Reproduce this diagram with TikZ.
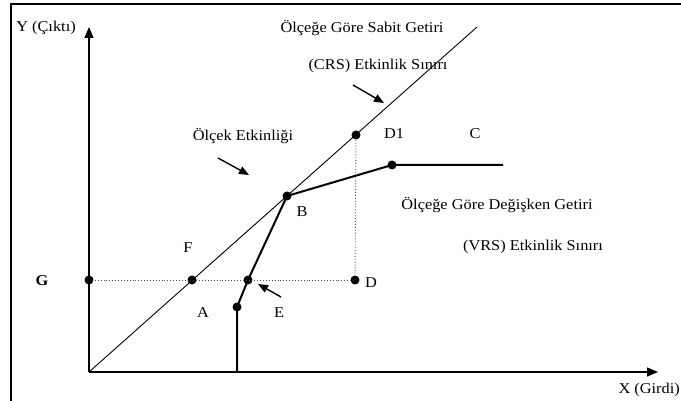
\documentclass[tikz,border=0pt]{standalone}
\usepackage{fontspec}
\setmainfont{Liberation Serif}[FakeStretch=1.09]
\usetikzlibrary{arrows.meta}
\begin{document}
\begin{tikzpicture}[x=1pt,y=1pt,
  lbl/.style={font=\fontsize{15}{17}\selectfont, inner sep=0pt, text=black},
  dotpt/.style={circle, fill=black, inner sep=0pt, minimum size=9pt},
  axis/.style={line width=1.4pt, -{Triangle[length=11pt,width=9pt]}},
  crs/.style={line width=0.9pt},
  vrs/.style={line width=2pt},
  guide/.style={dotted, line width=0.9pt, black!70},
  pointer/.style={line width=1.4pt, -{Triangle[length=10pt,width=8pt]}}]
\useasboundingbox (0,0) rectangle (681,401);
% frame
\draw[line width=1.6pt] (11,0) -- (11,397) -- (681,397);
% coordinates
\coordinate (O) at (89,29);
\coordinate (Yend) at (89,374);
\coordinate (Xend) at (658,29);
\coordinate (Cend) at (503,236);
\coordinate (CRSend) at (477,374);
\coordinate (Abase) at (237,29);
% dots
\node[dotpt] (D1) at (356,266) {};
\node[dotpt] (Cp) at (392,236) {};
\node[dotpt] (B) at (287,205) {};
\node[dotpt] (G) at (89,121) {};
\node[dotpt] (F) at (192,121) {};
\node[dotpt] (E) at (248,121) {};
\node[dotpt] (A) at (237,94) {};
\node[dotpt] (D) at (355,121) {};
% guides
\draw[guide] (G.center) -- (D.center);
\draw[guide] (D.center) -- (D1.center);
% axes
\draw[axis] (O) -- (Yend);
\draw[axis] (O) -- (Xend);
% CRS
\draw[crs] (O) -- (CRSend);
% VRS
\draw[vrs, line join=round] (Abase) -- (A.center) -- (E.center) -- (B.center) -- (Cp.center) -- (Cend);
% labels
\node[lbl] (ly) at (46,373) {Y (Çıktı)};
\node[lbl] (lcrs1) at (362,373) {Ölçeğe Göre Sabit Getiri};
\node[lbl] (lcrs2) at (378,335) {(CRS) Etkinlik Sınırı};
\node[lbl] (lscale) at (243,265) {Ölçek Etkinliği};
\node[lbl] (lD1) at (394,267) {D1};
\node[lbl] (lC) at (475,267) {C};
\node[lbl] (lB) at (302,189) {B};
\node[lbl] (lvrs1) at (497,196) {Ölçeğe Göre Değişken Getiri};
\node[lbl] (lvrs2) at (533,154) {(VRS) Etkinlik Sınırı};
\node[lbl] (lF) at (188,153) {F};
\node[lbl, font=\fontsize{15}{17}\selectfont\bfseries] (lG) at (42,120) {G};
\node[lbl] (lA) at (203,88) {A};
\node[lbl] (lE) at (279,88) {E};
\node[lbl] (lD) at (371,118) {D};
\node[lbl, anchor=east] (lX) at (680,11) {X (Girdi)};
% pointer arrows
\coordinate (p1s) at (353,316);
\coordinate (p1e) at (384,298);
\coordinate (p2s) at (218,243);
\coordinate (p2e) at (249,226);
\coordinate (p3s) at (281,104);
\coordinate (p3e) at (258,117);
\draw[pointer] (p1s) -- (p1e);
\draw[pointer] (p2s) -- (p2e);
\draw[pointer] (p3s) -- (p3e);
\end{tikzpicture}
\end{document}
